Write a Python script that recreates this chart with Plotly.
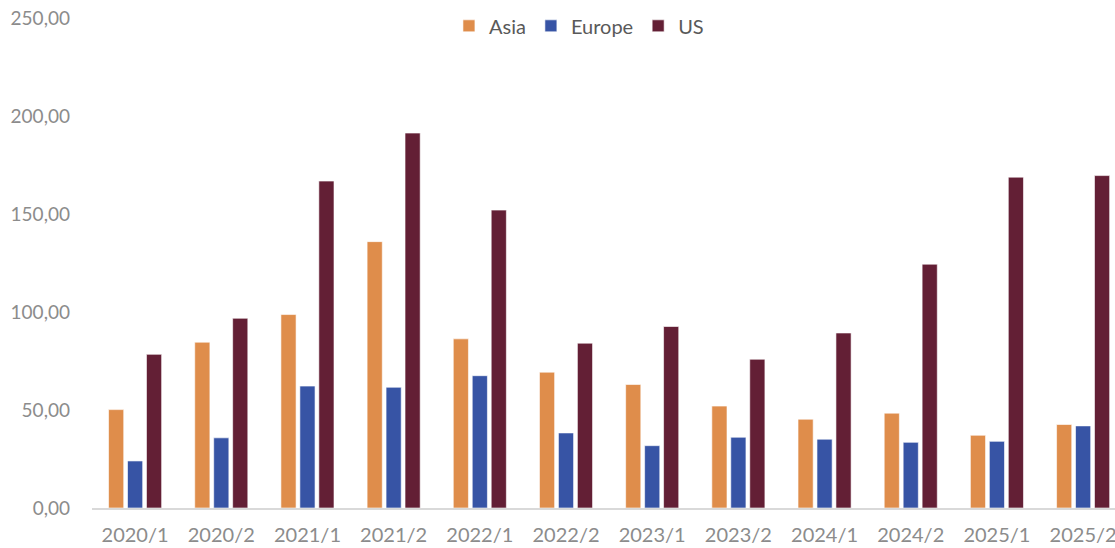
import plotly.graph_objects as go

categories = ["2020/1", "2020/2", "2021/1", "2021/2", "2022/1", "2022/2",
              "2023/1", "2023/2", "2024/1", "2024/2", "2025/1", "2025/2"]
asia = [50.2, 84.6, 98.7, 135.9, 86.3, 69.3, 63.0, 52.0, 45.3, 48.4, 37.1, 42.6]
europe = [24.0, 35.8, 62.2, 61.6, 67.5, 38.3, 31.8, 36.1, 35.1, 33.5, 34.0, 41.9]
us = [78.4, 96.8, 166.8, 191.3, 152.0, 84.1, 92.6, 75.9, 89.3, 124.4, 168.8, 169.6]

colors = {"Asia": "#DF8D4B", "Europe": "#3754A5", "US": "#631F35"}

fig = go.Figure()
for name, vals in [("Asia", asia), ("Europe", europe), ("US", us)]:
    fig.add_trace(go.Bar(
        name=name, x=categories, y=vals,
        marker=dict(color=colors[name], line=dict(color="rgba(255,255,255,0.6)", width=1)),
    ))

fig.update_layout(
    width=1115, height=548,
    margin=dict(l=92, r=0, t=18, b=40, autoexpand=False),
    paper_bgcolor="white", plot_bgcolor="white",
    barmode="group", bargap=0.34, bargroupgap=0.2,
    separators=",.",
    font=dict(family="Lato, sans-serif", size=20, color="#8C8C8C"),
    showlegend=True,
    legend=dict(orientation="h", x=0.476, xanchor="center", y=0.984, yanchor="middle",
                font=dict(size=20, color="#595959"), bgcolor="rgba(0,0,0,0)",
                traceorder="normal"),
    xaxis=dict(type="category", range=[-0.5, 11.37], showgrid=False, automargin=False,
               showline=True, linecolor="#D9D9D9", linewidth=1.5,
               ticks="", ticklabelstandoff=8,
               tickfont=dict(size=20, color="#8C8C8C")),
    yaxis=dict(range=[0, 250], dtick=50, tickformat=".2f", showgrid=False, automargin=False,
               zeroline=False, showline=False, ticks="",
               ticklabelstandoff=21,
               tickfont=dict(size=19, color="#8C8C8C")),
)

fig.write_html("out.html",
               config={"displayModeBar": False},
               post_script="document.body.style.margin='0';document.body.style.overflow='hidden';")
